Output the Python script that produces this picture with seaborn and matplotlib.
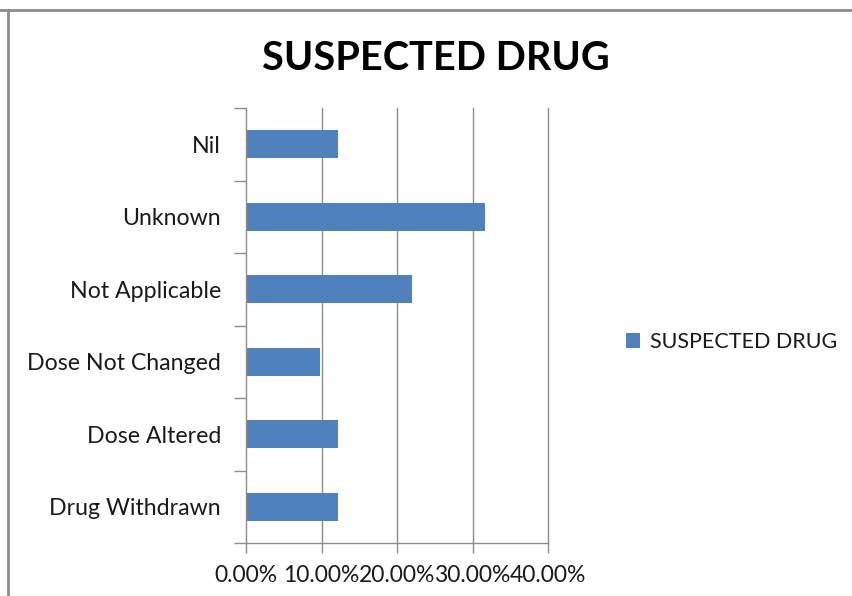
import matplotlib
matplotlib.use("Agg")
import matplotlib.pyplot as plt
import matplotlib.ticker as mticker
from matplotlib.lines import Line2D
import seaborn as sns
import pandas as pd

categories = ["Nil", "Unknown", "Not Applicable", "Dose Not Changed", "Dose Altered", "Drug Withdrawn"]
values = [0.122, 0.317, 0.220, 0.098, 0.122, 0.122]
series_name = "SUSPECTED DRUG"
x_ticks = [0.0, 0.1, 0.2, 0.3, 0.4]

sns.set_style("white")
plt.rcParams["font.family"] = ["Lato", "DejaVu Sans"]

df = pd.DataFrame({"category": categories, "value": values})

fig = plt.figure(figsize=(8.52, 5.96), dpi=100)
ax = fig.add_axes([246 / 852, 53 / 596, 302 / 852, 435 / 596])

sns.barplot(data=df, x="value", y="category", order=categories, orient="h",
            color="#4F81BD", saturation=1, width=0.38, ax=ax, label=series_name,
            edgecolor="#4F81BD", linewidth=0)

ax.set_xlim(0, 0.4)
ax.set_ylim(5.5, -0.5)
ax.set_xticks(x_ticks)
ax.xaxis.set_major_formatter(mticker.FuncFormatter(lambda v, p: f"{v*100:.2f}%"))
ax.set_xlabel("")
ax.set_ylabel("")

grid_c = "#8C8C8C"
ax.grid(False)
for xv in x_ticks[1:]:
    ax.axvline(xv, color=grid_c, linewidth=1.0, zorder=0, clip_on=False)

for side in ["top", "right"]:
    ax.spines[side].set_visible(False)
for side in ["left", "bottom"]:
    ax.spines[side].set_color(grid_c)
    ax.spines[side].set_linewidth(1.0)

ax.set_yticks(range(len(categories)))
ax.set_yticklabels(categories)
ax.set_yticks([i - 0.5 for i in range(len(categories) + 1)], minor=True)
ax.tick_params(axis="y", which="major", length=0, pad=18, labelsize=16.7, labelcolor="#1a1a1a")
ax.tick_params(axis="y", which="minor", length=9, width=1.0, color=grid_c, left=True)
ax.tick_params(axis="x", which="major", length=7, width=1.0, color=grid_c, bottom=True,
               labelsize=16.5, labelcolor="#1a1a1a", pad=9)

if ax.get_legend() is not None:
    ax.get_legend().remove()
handles, labels = ax.get_legend_handles_labels()
fig.legend(handles[:1], labels[:1], loc="center left", bbox_to_anchor=(607 / 852, 1 - 342 / 596),
           frameon=False, fontsize=15.5, handlelength=0.65, handleheight=0.65, handletextpad=0.45,
           labelcolor="#1a1a1a")

fig.text(436 / 852, 1 - 58 / 596, "SUSPECTED DRUG", ha="center", va="center",
         fontsize=28.5, fontweight="bold", color="black")

fig.add_artist(Line2D([0, 1], [1 - 10 / 596, 1 - 10 / 596], transform=fig.transFigure,
                      color="#8C8C8C", linewidth=2))
fig.add_artist(Line2D([8 / 852, 8 / 852], [0, 1 - 10 / 596], transform=fig.transFigure,
                      color="#8C8C8C", linewidth=2))

fig.savefig("out.png", dpi=100, facecolor="white")
